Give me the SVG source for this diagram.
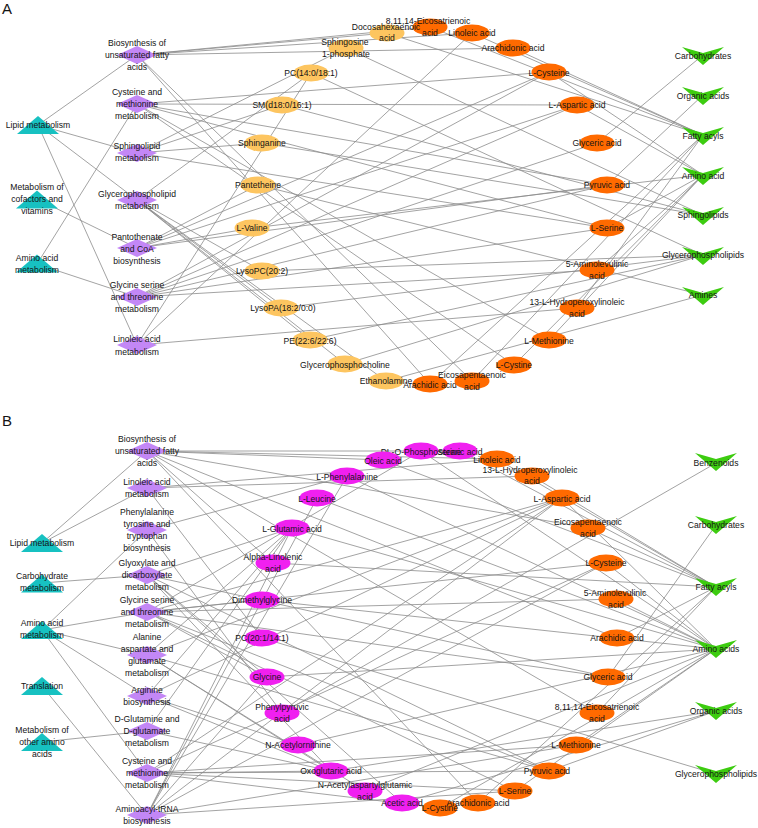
<svg xmlns="http://www.w3.org/2000/svg" xmlns:xlink="http://www.w3.org/1999/xlink" width="758" height="828" viewBox="0 0 758 828">
<style>
text{font-family:"Liberation Sans",Arial,sans-serif;font-size:8.6px;fill:#141414;text-anchor:middle;dominant-baseline:central}
.pl{font-size:15px;text-anchor:start;dominant-baseline:auto}
.edge line{stroke:#8c8c8c;stroke-width:0.8}
.tri{fill:#17c1c1}
.dia{fill:#c387f6}
.yel{fill:#fdc560}
.ora{fill:#ff6a00}
.mag{fill:#f020f0}
.grn{fill:#3dcc10}
</style>
<defs>
<polygon id="tri" points="0,-9 21,9 -21,9"/>
<polygon id="dia" points="-20,0 0,-9 20,0 0,9"/>
<ellipse id="ell" cx="0" cy="0" rx="17.5" ry="8.5"/>
<polygon id="chev" points="-21,-9 0,-3 21,-9 0,9"/>
</defs>
<rect width="758" height="828" fill="#fff"/>
<text class="pl" x="2" y="14">A</text>
<text class="pl" x="2" y="426">B</text>
<g id="connectors" class="edge">
<line x1="38" y1="125" x2="137" y2="55"/><line x1="38" y1="125" x2="137" y2="153"/><line x1="38" y1="125" x2="137" y2="200"/><line x1="38" y1="125" x2="137" y2="345"/><line x1="37" y1="199" x2="137" y2="248"/><line x1="37" y1="264" x2="137" y2="104"/><line x1="37" y1="264" x2="137" y2="297"/>
<line x1="137" y1="55" x2="387" y2="33"/><line x1="137" y1="55" x2="430" y2="27"/><line x1="137" y1="55" x2="472" y2="33"/><line x1="137" y1="55" x2="513" y2="48"/><line x1="137" y1="55" x2="472" y2="381"/><line x1="137" y1="55" x2="430" y2="384"/>
<line x1="137" y1="104" x2="549" y2="72"/><line x1="137" y1="104" x2="577" y2="105"/><line x1="137" y1="104" x2="607" y2="185"/><line x1="137" y1="104" x2="607" y2="228"/><line x1="137" y1="104" x2="549" y2="340"/><line x1="137" y1="104" x2="514" y2="365"/>
<line x1="137" y1="153" x2="346" y2="48"/><line x1="137" y1="153" x2="282" y2="105"/><line x1="137" y1="153" x2="262" y2="143"/><line x1="137" y1="153" x2="607" y2="228"/>
<line x1="137" y1="200" x2="311" y2="73"/><line x1="137" y1="200" x2="262" y2="271"/><line x1="137" y1="200" x2="281" y2="308"/><line x1="137" y1="200" x2="310" y2="340"/><line x1="137" y1="200" x2="345" y2="364"/><line x1="137" y1="200" x2="386" y2="381"/>
<line x1="137" y1="248" x2="258" y2="185"/><line x1="137" y1="248" x2="252" y2="228"/><line x1="137" y1="248" x2="549" y2="72"/><line x1="137" y1="248" x2="577" y2="105"/><line x1="137" y1="248" x2="607" y2="185"/>
<line x1="137" y1="297" x2="549" y2="72"/><line x1="137" y1="297" x2="577" y2="105"/><line x1="137" y1="297" x2="597" y2="143"/><line x1="137" y1="297" x2="607" y2="185"/><line x1="137" y1="297" x2="607" y2="228"/><line x1="137" y1="297" x2="597" y2="270"/>
<line x1="137" y1="345" x2="472" y2="33"/><line x1="137" y1="345" x2="577" y2="308"/><line x1="137" y1="345" x2="311" y2="73"/>
<line x1="703" y1="55" x2="597" y2="143"/>
<line x1="703" y1="95" x2="607" y2="185"/>
<line x1="703" y1="135" x2="387" y2="33"/><line x1="703" y1="135" x2="430" y2="27"/><line x1="703" y1="135" x2="472" y2="33"/><line x1="703" y1="135" x2="513" y2="48"/><line x1="703" y1="135" x2="577" y2="308"/><line x1="703" y1="135" x2="472" y2="381"/><line x1="703" y1="135" x2="430" y2="384"/>
<line x1="703" y1="175" x2="549" y2="72"/><line x1="703" y1="175" x2="577" y2="105"/><line x1="703" y1="175" x2="607" y2="228"/><line x1="703" y1="175" x2="549" y2="340"/><line x1="703" y1="175" x2="514" y2="365"/><line x1="703" y1="175" x2="252" y2="228"/><line x1="703" y1="175" x2="597" y2="270"/>
<line x1="703" y1="215" x2="346" y2="48"/><line x1="703" y1="215" x2="282" y2="105"/><line x1="703" y1="215" x2="262" y2="143"/>
<line x1="703" y1="255" x2="311" y2="73"/><line x1="703" y1="255" x2="262" y2="271"/><line x1="703" y1="255" x2="281" y2="308"/><line x1="703" y1="255" x2="310" y2="340"/><line x1="703" y1="255" x2="345" y2="364"/>
<line x1="703" y1="295" x2="386" y2="381"/><line x1="703" y1="295" x2="258" y2="185"/>
<line x1="42" y1="543" x2="147" y2="451"/><line x1="42" y1="543" x2="147" y2="488"/><line x1="42" y1="583" x2="147" y2="575"/><line x1="42" y1="630" x2="147" y2="530"/><line x1="42" y1="630" x2="147" y2="612"/><line x1="42" y1="630" x2="147" y2="655"/><line x1="42" y1="630" x2="147" y2="696"/><line x1="42" y1="630" x2="147" y2="773"/><line x1="42" y1="686" x2="147" y2="815"/><line x1="42" y1="742" x2="147" y2="731"/>
<line x1="147" y1="451" x2="460" y2="451"/><line x1="147" y1="451" x2="383" y2="460"/><line x1="147" y1="451" x2="497" y2="459"/><line x1="147" y1="451" x2="273" y2="563"/><line x1="147" y1="451" x2="588" y2="528"/><line x1="147" y1="451" x2="478" y2="803"/><line x1="147" y1="451" x2="617" y2="638"/><line x1="147" y1="451" x2="597" y2="713"/>
<line x1="147" y1="488" x2="497" y2="459"/><line x1="147" y1="488" x2="532" y2="476"/><line x1="147" y1="488" x2="262" y2="638"/>
<line x1="147" y1="530" x2="347" y2="476"/><line x1="147" y1="530" x2="282" y2="713"/>
<line x1="147" y1="575" x2="292" y2="528"/><line x1="147" y1="575" x2="267" y2="677"/><line x1="147" y1="575" x2="331" y2="771"/><line x1="147" y1="575" x2="402" y2="803"/><line x1="147" y1="575" x2="608" y2="677"/><line x1="147" y1="575" x2="549" y2="771"/>
<line x1="147" y1="612" x2="262" y2="600"/><line x1="147" y1="612" x2="267" y2="677"/><line x1="147" y1="612" x2="421" y2="451"/><line x1="147" y1="612" x2="515" y2="791"/><line x1="147" y1="612" x2="608" y2="677"/><line x1="147" y1="612" x2="606" y2="563"/><line x1="147" y1="612" x2="549" y2="771"/><line x1="147" y1="612" x2="616" y2="599"/><line x1="147" y1="612" x2="562" y2="498"/>
<line x1="147" y1="655" x2="292" y2="528"/><line x1="147" y1="655" x2="562" y2="498"/><line x1="147" y1="655" x2="331" y2="771"/><line x1="147" y1="655" x2="549" y2="771"/><line x1="147" y1="655" x2="365" y2="791"/>
<line x1="147" y1="696" x2="292" y2="528"/><line x1="147" y1="696" x2="298" y2="745"/><line x1="147" y1="696" x2="331" y2="771"/><line x1="147" y1="696" x2="562" y2="498"/>
<line x1="147" y1="731" x2="292" y2="528"/><line x1="147" y1="731" x2="331" y2="771"/>
<line x1="147" y1="773" x2="606" y2="563"/><line x1="147" y1="773" x2="515" y2="791"/><line x1="147" y1="773" x2="576" y2="745"/><line x1="147" y1="773" x2="549" y2="771"/><line x1="147" y1="773" x2="562" y2="498"/><line x1="147" y1="773" x2="331" y2="771"/><line x1="147" y1="773" x2="440" y2="808"/>
<line x1="147" y1="815" x2="347" y2="476"/><line x1="147" y1="815" x2="317" y2="498"/><line x1="147" y1="815" x2="292" y2="528"/><line x1="147" y1="815" x2="267" y2="677"/><line x1="147" y1="815" x2="562" y2="498"/><line x1="147" y1="815" x2="606" y2="563"/><line x1="147" y1="815" x2="576" y2="745"/><line x1="147" y1="815" x2="515" y2="791"/>
<line x1="716" y1="463" x2="282" y2="713"/>
<line x1="716" y1="525" x2="608" y2="677"/>
<line x1="716" y1="587" x2="460" y2="451"/><line x1="716" y1="587" x2="383" y2="460"/><line x1="716" y1="587" x2="497" y2="459"/><line x1="716" y1="587" x2="532" y2="476"/><line x1="716" y1="587" x2="273" y2="563"/><line x1="716" y1="587" x2="588" y2="528"/><line x1="716" y1="587" x2="617" y2="638"/><line x1="716" y1="587" x2="597" y2="713"/><line x1="716" y1="587" x2="478" y2="803"/>
<line x1="716" y1="649" x2="421" y2="451"/><line x1="716" y1="649" x2="347" y2="476"/><line x1="716" y1="649" x2="317" y2="498"/><line x1="716" y1="649" x2="292" y2="528"/><line x1="716" y1="649" x2="262" y2="600"/><line x1="716" y1="649" x2="267" y2="677"/><line x1="716" y1="649" x2="298" y2="745"/><line x1="716" y1="649" x2="365" y2="791"/><line x1="716" y1="649" x2="562" y2="498"/><line x1="716" y1="649" x2="606" y2="563"/><line x1="716" y1="649" x2="616" y2="599"/><line x1="716" y1="649" x2="576" y2="745"/><line x1="716" y1="649" x2="515" y2="791"/><line x1="716" y1="649" x2="440" y2="808"/>
<line x1="716" y1="711" x2="549" y2="771"/><line x1="716" y1="711" x2="331" y2="771"/><line x1="716" y1="711" x2="402" y2="803"/>
<line x1="716" y1="774" x2="262" y2="638"/>
</g>
<!-- Panel A -->
<g id="a-lipid"><use href="#tri" class="tri" x="38" y="125"/><text x="38" y="125">Lipid metabolism</text></g>
<g id="a-cofactors"><use href="#tri" class="tri" x="37" y="199.5"/><text x="37" y="187">Metabolism of</text><text x="37" y="199">cofactors and</text><text x="37" y="211">vitamins</text></g>
<g id="a-aminometab"><use href="#tri" class="tri" x="37" y="263.5"/><text x="37" y="258">Amino acid</text><text x="37" y="270">metabolism</text></g>
<g id="a-biosyn"><use href="#dia" class="dia" x="137" y="55"/><text x="137" y="43">Biosynthesis of</text><text x="137" y="55">unsaturated fatty</text><text x="137" y="67">acids</text></g>
<g id="a-cysmet"><use href="#dia" class="dia" x="137" y="104"/><text x="137" y="92">Cysteine and</text><text x="137" y="104">methionine</text><text x="137" y="116">metabolism</text></g>
<g id="a-sphingo"><use href="#dia" class="dia" x="137" y="153"/><text x="137" y="146">Sphingolipid</text><text x="137" y="158">metabolism</text></g>
<g id="a-glycero"><use href="#dia" class="dia" x="137" y="200"/><text x="137" y="194">Glycerophospholipid</text><text x="137" y="206">metabolism</text></g>
<g id="a-panto"><use href="#dia" class="dia" x="137" y="248"/><text x="137" y="237">Pantothenate</text><text x="137" y="249">and CoA</text><text x="137" y="261">biosynthesis</text></g>
<g id="a-glyser"><use href="#dia" class="dia" x="137" y="297"/><text x="137" y="285">Glycine serine</text><text x="137" y="297">and threonine</text><text x="137" y="309">metabolism</text></g>
<g id="a-linometab"><use href="#dia" class="dia" x="137" y="345"/><text x="137" y="339">Linoleic acid</text><text x="137" y="352">metabolism</text></g>
<g id="a-linoleic"><use href="#ell" class="ora" x="472" y="33"/><text x="472" y="33">Linoleic acid</text></g>
<g id="a-eicosatrienoic"><use href="#ell" class="ora" x="430" y="27"/><text x="428" y="21">8,11,14-Eicosatrienoic</text><text x="430" y="33">acid</text></g>
<g id="a-dha"><use href="#ell" class="yel" x="387" y="33"/><text x="386" y="27">Docosahexaenoic</text><text x="387" y="38">acid</text></g>
<g id="a-s1p"><use href="#ell" class="yel" x="346" y="48"/><text x="345" y="42">Sphingosine</text><text x="346" y="54">1-phosphate</text></g>
<g id="a-pc"><use href="#ell" class="yel" x="311" y="73"/><text x="311" y="73">PC(14:0/18:1)</text></g>
<g id="a-sm"><use href="#ell" class="yel" x="282" y="105"/><text x="282" y="105">SM(d18:0/16:1)</text></g>
<g id="a-sphinganine"><use href="#ell" class="yel" x="262" y="143"/><text x="262" y="143">Sphinganine</text></g>
<g id="a-pantetheine"><use href="#ell" class="yel" x="258" y="185"/><text x="258" y="185">Pantetheine</text></g>
<g id="a-valine"><use href="#ell" class="yel" x="252" y="228"/><text x="252" y="228">L-Valine</text></g>
<g id="a-lysopc"><use href="#ell" class="yel" x="262" y="271"/><text x="262" y="271">LysoPC(20:2)</text></g>
<g id="a-lysopa"><use href="#ell" class="yel" x="281" y="308"/><text x="283" y="308">LysoPA(18:2/0:0)</text></g>
<g id="a-pe"><use href="#ell" class="yel" x="310" y="340"/><text x="310" y="341">PE(22:6/22:6)</text></g>
<g id="a-gpc"><use href="#ell" class="yel" x="345" y="364"/><text x="345" y="365">Glycerophosphocholine</text></g>
<g id="a-arachidic"><use href="#ell" class="ora" x="430" y="384"/><text x="430" y="385">Arachidic acid</text></g>
<g id="a-ethanolamine"><use href="#ell" class="yel" x="386" y="381"/><text x="386" y="381">Ethanolamine</text></g>
<g id="a-epa"><use href="#ell" class="ora" x="472" y="381"/><text x="472" y="375">Eicosapentaenoic</text><text x="472" y="387">acid</text></g>
<g id="a-arachidonic"><use href="#ell" class="ora" x="513" y="48"/><text x="513" y="48">Arachidonic acid</text></g>
<g id="a-cysteine"><use href="#ell" class="ora" x="549" y="72"/><text x="549" y="73">L-Cysteine</text></g>
<g id="a-aspartic"><use href="#ell" class="ora" x="577" y="105"/><text x="577" y="105">L-Aspartic acid</text></g>
<g id="a-glyceric"><use href="#ell" class="ora" x="597" y="143"/><text x="597" y="143">Glyceric acid</text></g>
<g id="a-pyruvic"><use href="#ell" class="ora" x="607" y="185"/><text x="607" y="185">Pyruvic acid</text></g>
<g id="a-serine"><use href="#ell" class="ora" x="607" y="228"/><text x="607" y="228">L-Serine</text></g>
<g id="a-ala"><use href="#ell" class="ora" x="597" y="270"/><text x="597" y="264">5-Aminolevulinic</text><text x="597" y="276">acid</text></g>
<g id="a-hpode"><use href="#ell" class="ora" x="577" y="308"/><text x="577" y="302">13-L-Hydroperoxylinoleic</text><text x="577" y="314">acid</text></g>
<g id="a-methionine"><use href="#ell" class="ora" x="549" y="340"/><text x="549" y="341">L-Methionine</text></g>
<g id="a-cystine"><use href="#ell" class="ora" x="514" y="365"/><text x="514" y="365">L-Cystine</text></g>
<g id="a-carbohydrates"><use href="#chev" class="grn" x="703" y="56"/><text x="703" y="56">Carbohydrates</text></g>
<g id="a-organic"><use href="#chev" class="grn" x="703" y="96"/><text x="703" y="96">Organic acids</text></g>
<g id="a-fatty"><use href="#chev" class="grn" x="703" y="136"/><text x="703" y="136">Fatty acyls</text></g>
<g id="a-amino"><use href="#chev" class="grn" x="703" y="176"/><text x="703" y="176">Amino acid</text></g>
<g id="a-sphingolipids"><use href="#chev" class="grn" x="703" y="216"/><text x="703" y="215">Sphingolipids</text></g>
<g id="a-gpl"><use href="#chev" class="grn" x="703" y="256"/><text x="703" y="255">Glycerophospholipids</text></g>
<g id="a-amines"><use href="#chev" class="grn" x="703" y="296"/><text x="703" y="295">Amines</text></g>
<!-- Panel B -->
<g id="b-lipid"><use href="#tri" class="tri" x="42" y="543"/><text x="42" y="543">Lipid metabolism</text></g>
<g id="b-carbmetab"><use href="#tri" class="tri" x="42" y="583.5"/><text x="42" y="576">Carbohydrate</text><text x="42" y="588">metabolism</text></g>
<g id="b-aminometab"><use href="#tri" class="tri" x="42" y="630"/><text x="42" y="623">Amino acid</text><text x="42" y="635">metabolism</text></g>
<g id="b-translation"><use href="#tri" class="tri" x="42" y="686"/><text x="42" y="686">Translation</text></g>
<g id="b-otheramino"><use href="#tri" class="tri" x="42" y="742"/><text x="42" y="730">Metabolism of</text><text x="42" y="742">other amino</text><text x="42" y="754">acids</text></g>
<g id="b-biosyn"><use href="#dia" class="dia" x="147" y="451"/><text x="147" y="439">Biosynthesis of</text><text x="147" y="451">unsaturated fatty</text><text x="147" y="463">acids</text></g>
<g id="b-linometab"><use href="#dia" class="dia" x="147" y="488"/><text x="147" y="482">Linoleic acid</text><text x="147" y="494">metabolism</text></g>
<g id="b-phe"><use href="#dia" class="dia" x="147" y="530"/><text x="147" y="512">Phenylalanine</text><text x="147" y="524">tyrosine and</text><text x="147" y="536">tryptophan</text><text x="147" y="548">biosynthesis</text></g>
<g id="b-glyoxylate"><use href="#dia" class="dia" x="147" y="575"/><text x="147" y="563">Glyoxylate and</text><text x="147" y="575">dicarboxylate</text><text x="147" y="587">metabolism</text></g>
<g id="b-glyser"><use href="#dia" class="dia" x="147" y="612"/><text x="147" y="600">Glycine serine</text><text x="147" y="612">and threonine</text><text x="147" y="624">metabolism</text></g>
<g id="b-ala"><use href="#dia" class="dia" x="147" y="655"/><text x="147" y="637">Alanine</text><text x="147" y="649">aspartate and</text><text x="147" y="661">glutamate</text><text x="147" y="673">metabolism</text></g>
<g id="b-arginine"><use href="#dia" class="dia" x="147" y="696"/><text x="147" y="690">Arginine</text><text x="147" y="702">biosynthesis</text></g>
<g id="b-dgln"><use href="#dia" class="dia" x="147" y="731"/><text x="147" y="719">D-Glutamine and</text><text x="147" y="731">D-glutamate</text><text x="147" y="743">metabolism</text></g>
<g id="b-cysmet"><use href="#dia" class="dia" x="147" y="773"/><text x="147" y="761">Cysteine and</text><text x="147" y="773">methionine</text><text x="147" y="785">metabolism</text></g>
<g id="b-trna"><use href="#dia" class="dia" x="147" y="815"/><text x="147" y="809">Aminoacyl-tRNA</text><text x="147" y="821">biosynthesis</text></g>
<g id="b-linoleic"><use href="#ell" class="ora" x="497" y="459"/><text x="497" y="460">Linoleic acid</text></g>
<g id="b-stearic"><use href="#ell" class="mag" x="460" y="451"/><text x="460" y="452">Stearic acid</text></g>
<g id="b-phosphoserine"><use href="#ell" class="mag" x="421" y="451"/><text x="421" y="452">DL-O-Phosphoserine</text></g>
<g id="b-oleic"><use href="#ell" class="mag" x="383" y="460"/><text x="383" y="461">Oleic acid</text></g>
<g id="b-phenylalanine"><use href="#ell" class="mag" x="347" y="476"/><text x="347" y="477">L-Phenylalanine</text></g>
<g id="b-leucine"><use href="#ell" class="mag" x="317" y="498"/><text x="317" y="499">L-Leucine</text></g>
<g id="b-glutamic"><use href="#ell" class="mag" x="292" y="528"/><text x="292" y="529">L-Glutamic acid</text></g>
<g id="b-alinolenic"><use href="#ell" class="mag" x="273" y="563"/><text x="273" y="557">Alpha-Linolenic</text><text x="273" y="569">acid</text></g>
<g id="b-dimethylglycine"><use href="#ell" class="mag" x="262" y="600"/><text x="262" y="600">Dimethylglycine</text></g>
<g id="b-pc"><use href="#ell" class="mag" x="262" y="638"/><text x="262" y="638">PC(20:1/14:1)</text></g>
<g id="b-glycine"><use href="#ell" class="mag" x="267" y="677"/><text x="267" y="677">Glycine</text></g>
<g id="b-phenylpyruvic"><use href="#ell" class="mag" x="282" y="713"/><text x="282" y="707">Phenylpyruvic</text><text x="282" y="719">acid</text></g>
<g id="b-nacetylornithine"><use href="#ell" class="mag" x="298" y="745"/><text x="298" y="745">N-Acetylornithine</text></g>
<g id="b-oxoglutaric"><use href="#ell" class="mag" x="331" y="771"/><text x="331" y="771">Oxoglutaric acid</text></g>
<g id="b-naag"><use href="#ell" class="mag" x="365" y="791"/><text x="365" y="785">N-Acetylaspartylglutamic</text><text x="365" y="797">acid</text></g>
<g id="b-acetic"><use href="#ell" class="mag" x="402" y="803"/><text x="402" y="803">Acetic acid</text></g>
<g id="b-cystine"><use href="#ell" class="ora" x="440" y="808"/><text x="440" y="808">L-Cystine</text></g>
<g id="b-arachidonic"><use href="#ell" class="ora" x="478" y="803"/><text x="478" y="803">Arachidonic acid</text></g>
<g id="b-serine"><use href="#ell" class="ora" x="515" y="791"/><text x="515" y="791">L-Serine</text></g>
<g id="b-pyruvic"><use href="#ell" class="ora" x="549" y="771"/><text x="547" y="771">Pyruvic acid</text></g>
<g id="b-methionine"><use href="#ell" class="ora" x="576" y="745"/><text x="576" y="745">L-Methionine</text></g>
<g id="b-eicosatrienoic"><use href="#ell" class="ora" x="597" y="713"/><text x="597" y="707">8,11,14-Eicosatrienoic</text><text x="597" y="719">acid</text></g>
<g id="b-glyceric"><use href="#ell" class="ora" x="608" y="677"/><text x="608" y="677">Glyceric acid</text></g>
<g id="b-arachidic"><use href="#ell" class="ora" x="617" y="638"/><text x="617" y="638">Arachidic acid</text></g>
<g id="b-ala5"><use href="#ell" class="ora" x="616" y="599"/><text x="615" y="593">5-Aminolevulinic</text><text x="616" y="605">acid</text></g>
<g id="b-cysteine"><use href="#ell" class="ora" x="606" y="563"/><text x="606" y="563">L-Cysteine</text></g>
<g id="b-epa"><use href="#ell" class="ora" x="588" y="528"/><text x="588" y="522">Eicosapentaenoic</text><text x="588" y="534">acid</text></g>
<g id="b-aspartic"><use href="#ell" class="ora" x="562" y="498"/><text x="562" y="499">L-Aspartic acid</text></g>
<g id="b-hpode"><use href="#ell" class="ora" x="532" y="476"/><text x="530" y="470">13-L-Hydroperoxylinoleic</text><text x="532" y="481">acid</text></g>
<g id="b-benzenoids"><use href="#chev" class="grn" x="716" y="462"/><text x="716" y="463">Benzenoids</text></g>
<g id="b-carbohydrates"><use href="#chev" class="grn" x="716" y="525"/><text x="716" y="525">Carbohydrates</text></g>
<g id="b-fatty"><use href="#chev" class="grn" x="716" y="587"/><text x="716" y="587">Fatty acyls</text></g>
<g id="b-amino"><use href="#chev" class="grn" x="716" y="649"/><text x="716" y="649">Amino acids</text></g>
<g id="b-organic"><use href="#chev" class="grn" x="716" y="711"/><text x="716" y="711">Organic acids</text></g>
<g id="b-gpl"><use href="#chev" class="grn" x="716" y="774"/><text x="716" y="774">Glycerophospholipids</text></g>
</svg>
